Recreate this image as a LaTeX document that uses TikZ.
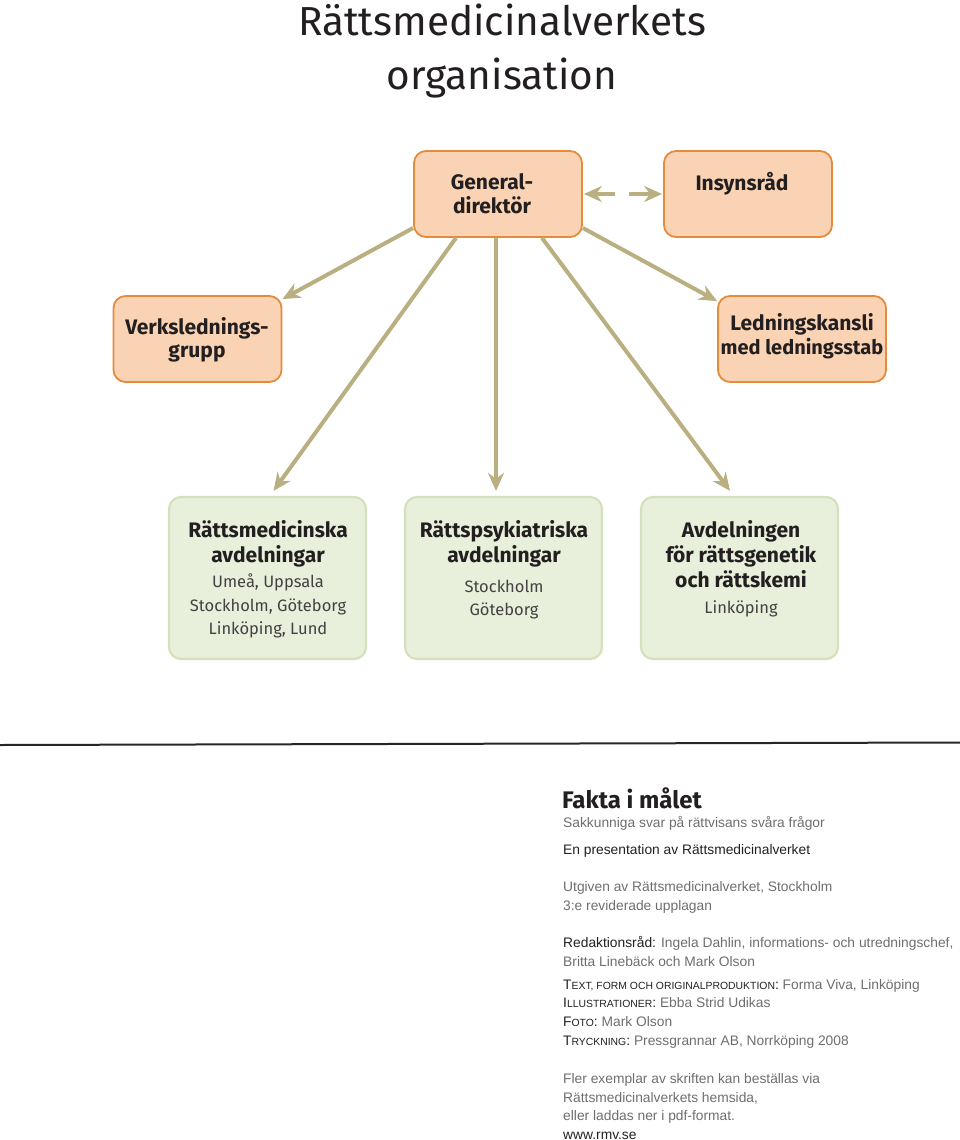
\documentclass[tikz,border=0pt]{standalone}
\usepackage{fontspec}
\setmainfont{Liberation Sans}
\newfontfamily\fira{Fira Sans}
\usetikzlibrary{arrows.meta,calc}
\definecolor{orf}{HTML}{F9D3B4}
\definecolor{orb}{HTML}{E58C3C}
\definecolor{grf}{HTML}{E8EFDA}
\definecolor{grb}{HTML}{D3E2BD}
\definecolor{arc}{HTML}{B9AF80}
\definecolor{txt}{HTML}{231F20}
\definecolor{gtx}{HTML}{6E6E6E}
\newcommand\fsc[2]{#1{\fontsize{10.4}{12}\selectfont #2}}
\begin{document}
\begin{tikzpicture}[x=1pt,y=-1pt,
 obox/.style={draw=orb,fill=orf,line width=1.8pt,rounded corners=12pt,minimum width=168pt,minimum height=86pt,inner sep=0pt},
 gbox/.style={draw=grb,fill=grf,line width=2.2pt,rounded corners=12pt,minimum width=197pt,minimum height=162pt,inner sep=0pt},
 bl/.style={anchor=base,inner sep=0pt,text=txt,font=\fira\bfseries\fontsize{21}{24}\selectfont},
 rl/.style={anchor=base,inner sep=0pt,text=txt!85,font=\fira\fontsize{16.5}{20}\selectfont},
 arr/.style={draw=arc,line width=4pt,-{Stealth[length=18pt,width=16pt,inset=6pt]}},
 ft/.style={anchor=base west,inner sep=0pt,text=gtx,font=\fontsize{13.8}{16}\selectfont},
]
\useasboundingbox (0,0) rectangle (960,1140);
% title
\node[anchor=base,inner sep=0pt,text=txt,font=\fira\fontsize{40.5}{46}\selectfont] (t1) at (502,36) {Rättsmedicinalverkets};
\node[anchor=base,inner sep=0pt,text=txt,font=\fira\fontsize{40.5}{46}\selectfont] (t2) at (502,89) {organisation};
% boxes
\node[obox] (gd) at (498,194) {};
\node[obox] (ins) at (748,194) {};
\node[obox] (vg) at (197.5,339) {};
\node[obox] (lk) at (802,339) {};
\node[gbox] (rm) at (267.5,578) {};
\node[gbox] (rp) at (503.5,578) {};
\node[gbox] (ag) at (739.5,578) {};
% box texts
\node[bl] (gd1) at (492,189) {General-};
\node[bl] (gd2) at (492,213) {direktör};
\node[bl] (ins1) at (742,190) {Insynsråd};
\node[bl] (vg1) at (197,334) {Verkslednings-};
\node[bl] (vg2) at (197,357) {grupp};
\node[bl] (lk1) at (802,330) {Ledningskansli};
\node[bl,font=\fira\bfseries\fontsize{20}{24}\selectfont] (lk2) at (802,354) {med ledningsstab};
\node[bl] (rm1) at (268,537) {Rättsmedicinska};
\node[bl] (rm2) at (268,562) {avdelningar};
\node[rl] (rm3) at (268,587) {Umeå, Uppsala};
\node[rl] (rm4) at (268,611) {Stockholm, Göteborg};
\node[rl] (rm5) at (268,634) {Linköping, Lund};
\node[bl] (rp1) at (504,537) {Rättspsykiatriska};
\node[bl] (rp2) at (504,562) {avdelningar};
\node[rl] (rp3) at (504,592) {Stockholm};
\node[rl] (rp4) at (504,615) {Göteborg};
\node[bl] (ag1) at (741,537) {Avdelningen};
\node[bl] (ag2) at (741,562) {för rättsgenetik};
\node[bl] (ag3) at (741,587) {och rättskemi};
\node[rl] (ag4) at (741,613) {Linköping};
% arrows
\draw[arr] ([yshift=-34pt]gd.west) -- ([yshift=-4pt]vg.north east);
\draw[arr] ([yshift=-34pt]gd.east) -- ([yshift=-6pt]lk.north west);
\draw[arr] ([xshift=-42pt]gd.south) -- ([xshift=6pt,yshift=5pt]rm.north);
\draw[arr] ([xshift=-2pt]gd.south) -- ([xshift=-7.5pt,yshift=5pt]rp.north);
\draw[arr] ([xshift=44pt]gd.south) -- ([xshift=-9.5pt,yshift=5pt]ag.north);
\draw[arr] ($(gd.east)!0.4!(ins.west)$) -- ([xshift=1pt]gd.east);
\draw[arr] ($(gd.east)!0.58!(ins.west)$) -- ([xshift=-1pt]ins.west);
% separator
\draw[line width=2pt,black!85] (0,745) -- (960,742.5);
% colophon
\node[anchor=base west,inner sep=0pt,text=txt,font=\fira\bfseries\fontsize{24}{27}\selectfont] (fk) at (562,808) {Fakta i målet};
\node[ft] (c1) at (563,827) {Sakkunniga svar på rättvisans svåra frågor};
\node[ft,text=txt] (c2) at (563,854) {En presentation av Rättsmedicinalverket};
\node[ft] (c3) at (563,891) {Utgiven av Rättsmedicinalverket, Stockholm};
\node[ft] (c4) at (563,910) {3:e reviderade upplagan};
\node[ft] (c5) at (563,947) {\textcolor{txt}{Redaktionsråd:} Ingela Dahlin, informations- och utredningschef,};
\node[ft] (c6) at (563,966) {Britta Linebäck och Mark Olson};
\node[ft] (c7) at (563,989) {\textcolor{txt}{\fsc{T}{EXT, FORM OCH ORIGINALPRODUKTION}:} Forma Viva, Linköping};
\node[ft] (c8) at (563,1007) {\textcolor{txt}{\fsc{I}{LLUSTRATIONER}:} Ebba Strid Udikas};
\node[ft] (c9) at (563,1026) {\textcolor{txt}{\fsc{F}{OTO}:} Mark Olson};
\node[ft] (c10) at (563,1045) {\textcolor{txt}{\fsc{T}{RYCKNING}:} Pressgrannar AB, Norrköping 2008};
\node[ft] (c11) at (563,1083) {Fler exemplar av skriften kan beställas via};
\node[ft] (c12) at (563,1102) {Rättsmedicinalverkets hemsida,};
\node[ft] (c13) at (563,1120) {eller laddas ner i pdf-format.};
\node[ft,text=txt] (c14) at (563,1139) {www.rmv.se};
\end{tikzpicture}
\end{document}
